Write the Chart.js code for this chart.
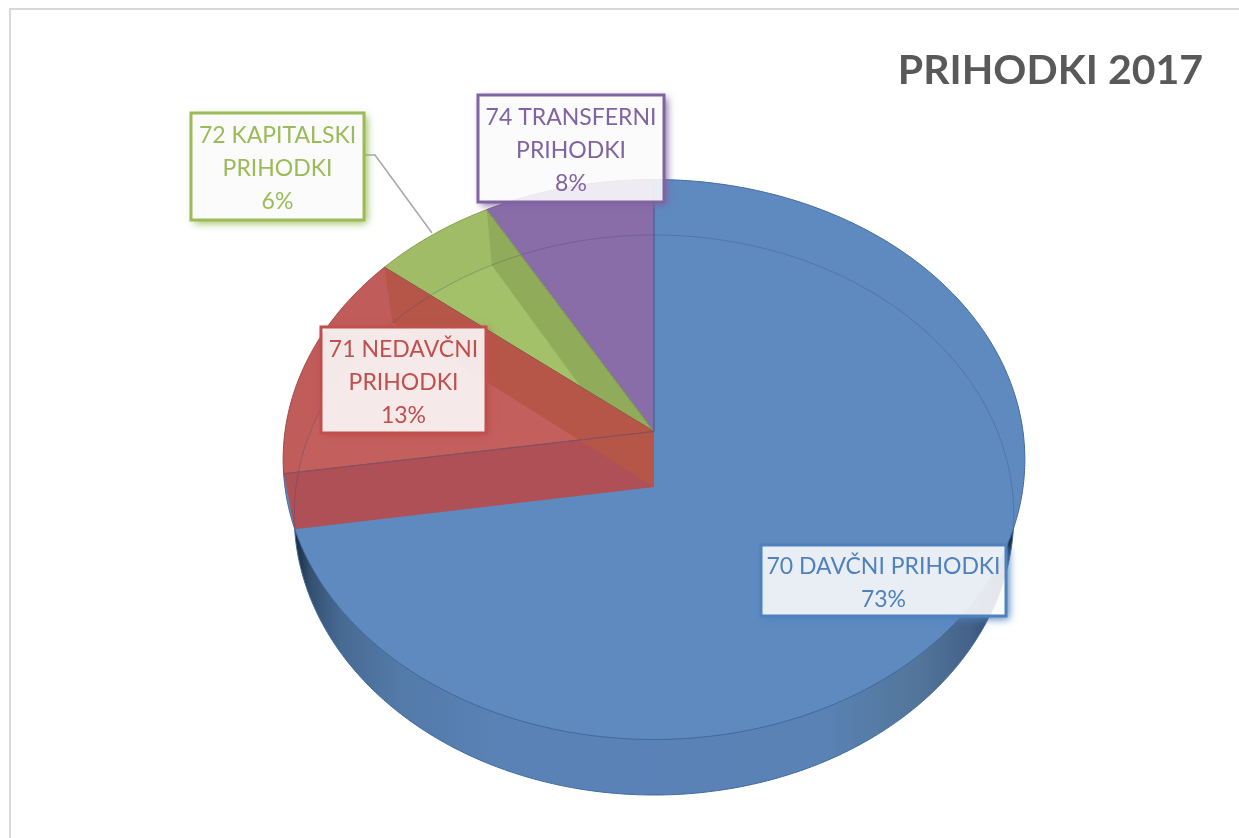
<!DOCTYPE html>
<html>
<head>
<meta charset="utf-8">
<title>Prihodki 2017</title>
<script src="https://cdn.jsdelivr.net/npm/chart.js@4"></script>
<style>
html,body{margin:0;padding:0;background:#fff;overflow:hidden}
canvas{display:block}
</style>
</head>
<body>
<canvas id="pie" width="1239" height="838"></canvas>
<script>
// Data
const chartTitle="PRIHODKI 2017";
const categories=["70 DAVČNI PRIHODKI","71 NEDAVČNI PRIHODKI","72 KAPITALSKI PRIHODKI","74 TRANSFERNI PRIHODKI"];
const values=[72.6,13.25,5.95,8.2];

// Colours
const faceColors=["#5E8AC0","#C05C5A","#A1BC66","#896DA8"];
const edgeColors=["#3F6A9E","#A04848","#84A04E","#6F5690"];
const textColors=["#4F81BD","#C0504D","#9BBB59","#8064A2"];

// Where the label boxes sit: x,y,w,h
const labelBoxes=[[761,545,245,71],[321,327,165,106],[191,113,173,107],[478,95,186,107]];

// Tilted disc: a top plane and a bottom plane seen in perspective
const topPlane={x:654,y:431.5,b:369,a:277.2};
const lowPlane={x:654,y:487,b:358,a:277.2};
const tilt=0.1;

function project(plane,angle){
  const X=Math.cos(angle),Y=Math.sin(angle),w=1-tilt*Y;
  return [plane.x+plane.b*X/w,plane.y+plane.a*Y/w];
}

function sectorPath(ctx,plane,start,end){
  ctx.beginPath();
  ctx.moveTo(plane.x,plane.y);
  for(let t=start;t<end;t+=0.01) ctx.lineTo(...project(plane,t));
  ctx.lineTo(...project(plane,end));
  ctx.closePath();
}

function discPath(ctx,plane){
  ctx.beginPath();
  for(let t=0;t<Math.PI*2;t+=0.01) ctx.lineTo(...project(plane,t));
  ctx.closePath();
}

function wallPath(ctx,angle){
  ctx.beginPath();
  ctx.moveTo(topPlane.x,topPlane.y);
  ctx.lineTo(...project(topPlane,angle));
  ctx.lineTo(...project(lowPlane,angle));
  ctx.lineTo(lowPlane.x,lowPlane.y);
  ctx.closePath();
}

function paintFace(ctx,arc,i){
  sectorPath(ctx,topPlane,arc.startAngle,arc.endAngle);
  ctx.fillStyle=faceColors[i];
  ctx.fill();
}

function strokeFace(ctx,arc,i){
  sectorPath(ctx,topPlane,arc.startAngle,arc.endAngle);
  ctx.strokeStyle=edgeColors[i];
  ctx.lineWidth=1;
  ctx.stroke();
}

// Floor of a slice showing through its translucent top
function paintFloor(ctx,arc,i,color){
  ctx.save();
  sectorPath(ctx,topPlane,arc.startAngle,arc.endAngle);
  ctx.clip();
  sectorPath(ctx,lowPlane,arc.startAngle,arc.endAngle);
  ctx.fillStyle=color;
  ctx.fill();
  ctx.restore();
}

const pie3d={
  id:"pie3d",
  beforeDraw(chart){
    const ctx=chart.ctx;
    ctx.save();
    ctx.strokeStyle="#D9D9D9";
    ctx.lineWidth=2;
    ctx.beginPath();
    ctx.moveTo(10,838);
    ctx.lineTo(10,9);
    ctx.lineTo(1239,9);
    ctx.stroke();
    ctx.restore();
  },
  beforeDatasetsDraw(chart){
    const ctx=chart.ctx;
    const arcs=chart.getDatasetMeta(0).data;
    const [blue,red,green,purple]=arcs;
    ctx.save();

    // outer side wall
    const side=ctx.createLinearGradient(283,0,1025,0);
    [[12,"#1B2A3E"],[27,"#33506F"],[57,"#476A93"],[117,"#537AA8"],[217,"#5A82B6"],[371,"#5A82B8"],
     [540,"#5A82B4"],[637,"#527599"],[687,"#44628A"],[717,"#2D4768"],[734,"#15202F"]].forEach(s=>{
      side.addColorStop(s[0]/742,s[1]);
    });
    discPath(ctx,lowPlane);
    ctx.fillStyle=side;
    ctx.fill();
    ctx.strokeStyle="#3F6A9E";
    ctx.lineWidth=1;
    ctx.stroke();

    paintFace(ctx,blue,0);
    paintFace(ctx,purple,3);

    // green slice, its floor and the wall next to purple
    paintFace(ctx,green,2);
    paintFloor(ctx,green,2,"#A3C168");
    ctx.save();
    sectorPath(ctx,topPlane,green.startAngle,green.endAngle);
    ctx.clip();
    wallPath(ctx,green.endAngle);
    ctx.fillStyle="#90AC5A";
    ctx.fill();
    ctx.restore();

    // red slice on top of that
    paintFace(ctx,red,1);
    paintFloor(ctx,red,1,"#C3605E");

    // walls seen through the red slice
    wallPath(ctx,red.startAngle);
    ctx.fillStyle="#AF5056";
    ctx.fill();
    wallPath(ctx,red.endAngle);
    ctx.fillStyle="#B65648";
    ctx.fill();

    // bottom rim faintly visible through the top
    ctx.save();
    discPath(ctx,topPlane);
    ctx.clip();
    discPath(ctx,lowPlane);
    ctx.strokeStyle="rgba(50,70,120,0.28)";
    ctx.lineWidth=1;
    ctx.stroke();
    ctx.restore();

    strokeFace(ctx,purple,3);
    strokeFace(ctx,green,2);
    strokeFace(ctx,blue,0);
    strokeFace(ctx,red,1);

    ctx.restore();
    return false; // the flat arcs are replaced by the tilted ones above
  },
  afterDraw(chart){
    const ctx=chart.ctx;
    const total=values.reduce((a,b)=>a+b,0);
    ctx.save();

    // leader line of the green label
    ctx.strokeStyle="#A6A6A6";
    ctx.lineWidth=1.5;
    ctx.beginPath();
    ctx.moveTo(364,155);
    ctx.lineTo(375,155);
    ctx.lineTo(432,233);
    ctx.stroke();

    categories.forEach((name,i)=>{
      const [x,y,w,h]=labelBoxes[i];
      const pct=Math.round(values[i]/total*100)+"%";
      const lines=i===0?[name,pct]:[name.replace(" PRIHODKI",""),"PRIHODKI",pct];

      // shadow only outside the box, so the box stays near white
      ctx.save();
      ctx.beginPath();
      ctx.rect(0,0,1239,838);
      ctx.rect(x,y,w,h);
      ctx.clip("evenodd");
      ctx.shadowColor=textColors[i];
      ctx.shadowBlur=8;
      ctx.shadowOffsetX=3;
      ctx.shadowOffsetY=3;
      ctx.fillStyle="#fff";
      ctx.fillRect(x,y,w,h);
      ctx.restore();

      ctx.fillStyle="rgba(250,250,250,0.89)";
      ctx.fillRect(x,y,w,h);

      ctx.strokeStyle=textColors[i];
      ctx.lineWidth=3;
      ctx.strokeRect(x,y,w,h);

      ctx.fillStyle=textColors[i];
      ctx.font="23px Lato";
      ctx.textAlign="center";
      ctx.textBaseline="middle";
      const top=y+h/2-(lines.length-1)*33/2+2.5;
      lines.forEach((line,n)=>ctx.fillText(line,x+w/2,top+n*33));
    });
    ctx.restore();
  }
};

new Chart(document.getElementById("pie"),{
  type:"pie",
  data:{
    labels:categories,
    datasets:[{data:values,backgroundColor:faceColors,borderWidth:0}]
  },
  options:{
    responsive:false,
    animation:false,
    layout:{padding:{top:46,right:36}},
    plugins:{
      legend:{display:false},
      tooltip:{enabled:false},
      title:{
        display:true,
        text:chartTitle,
        align:"end",
        color:"#595959",
        font:{family:"Lato",size:41,weight:"bold"},
        padding:0
      }
    }
  },
  plugins:[pie3d]
});
</script>
</body>
</html>
